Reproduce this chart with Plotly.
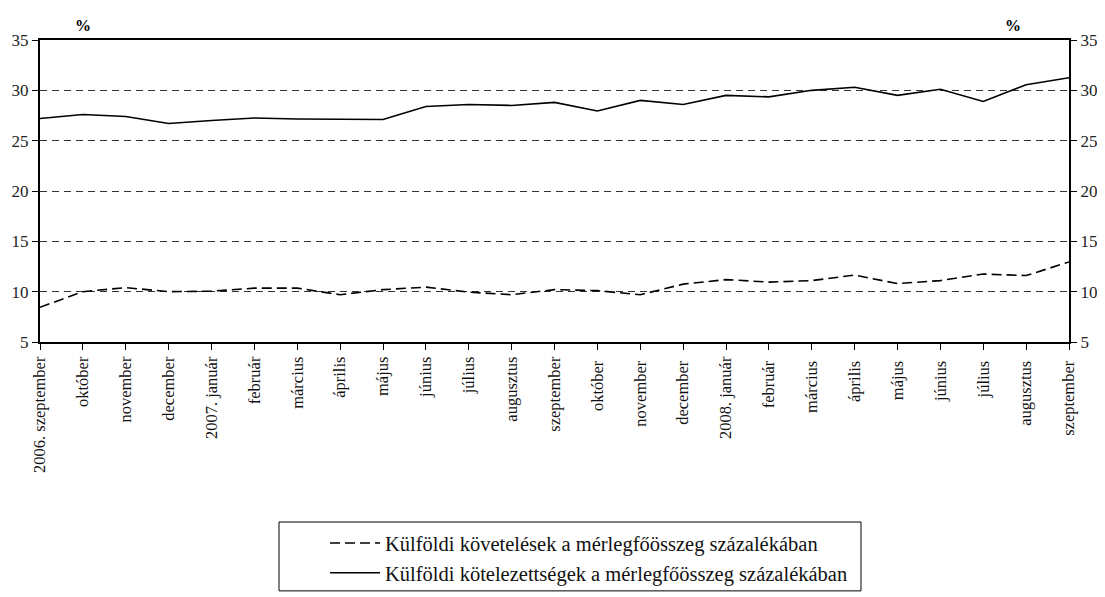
import plotly.graph_objects as go

categories = ["2006. szeptember", "október", "november", "december", "2007. január",
              "február", "március", "április", "május", "június", "július", "augusztus",
              "szeptember", "október ", "november ", "december ", "2008. január",
              "február ", "március ", "április ", "május ", "június ", "július ",
              "augusztus ", "szeptember "]

claims = [8.45, 10.0, 10.4, 10.0, 10.05, 10.35, 10.35, 9.7, 10.2, 10.45, 9.95, 9.7,
          10.2, 10.1, 9.7, 10.75, 11.2, 10.95, 11.1, 11.65, 10.8, 11.1, 11.75, 11.6, 12.95]

liabilities = [27.2, 27.6, 27.4, 26.7, 27.0, 27.25, 27.15, 27.15, 27.1, 28.4, 28.6, 28.5,
               28.8, 27.95, 29.0, 28.6, 29.5, 29.35, 30.0, 30.3, 29.5, 30.1, 28.9, 30.55, 31.25]

claims_name = "Külföldi követelések a mérlegfőösszeg százalékában"
liab_name = "Külföldi kötelezettségek a mérlegfőösszeg százalékában"

y_ticks = [5, 10, 15, 20, 25, 30, 35]

FONT = "Liberation Serif"

fig = go.Figure()
fig.add_trace(go.Scatter(x=categories, y=claims, mode="lines", name=claims_name,
                         line=dict(color="black", width=1.6, dash="10px,5px"),
                         legendgroup="a"))
fig.add_trace(go.Scatter(x=categories, y=liabilities, mode="lines", name=liab_name,
                         line=dict(color="black", width=1.6), legendgroup="b"))
fig.add_trace(go.Scatter(x=categories, y=liabilities, mode="lines", yaxis="y2",
                         line=dict(color="rgba(0,0,0,0)"), showlegend=False,
                         hoverinfo="skip"))

axis_common = dict(range=[5, 35], tickvals=y_ticks, ticks="outside", ticklen=6,
                   tickcolor="black", showline=True, linecolor="black", linewidth=2,
                   tickfont=dict(family=FONT, size=17, color="#222"), zeroline=False,
                   automargin=False)

fig.update_layout(
    width=1105, height=597,
    margin=dict(l=32, r=44, t=32, b=258),
    paper_bgcolor="white", plot_bgcolor="white",
    font=dict(family=FONT, size=17, color="black"),
    xaxis=dict(type="category", tickangle=-90, ticks="outside", ticklen=6,
               tickcolor="black", showline=True, linecolor="black", linewidth=2,
               mirror=True, showgrid=False, range=[0, 24], automargin=False,
               tickfont=dict(family=FONT, size=16.5, color="#111")),
    yaxis=dict(**axis_common, showgrid=True, gridcolor="#333", griddash="7px,5px",
               gridwidth=1),
    yaxis2=dict(**axis_common, overlaying="y", side="right", showgrid=False),
    showlegend=True,
    legend=dict(x=0.277, xanchor="left", y=-0.60, yanchor="top",
                bgcolor="rgba(0,0,0,0)", traceorder="grouped", tracegroupgap=0,
                font=dict(family=FONT, size=20.5, color="#111"), itemwidth=50),
)

fig.add_shape(type="rect", xref="paper", yref="paper",
              x0=(279 - 40) / 1029, x1=(861 - 40) / 1029,
              y0=(347 - 530) / 307, y1=(347 - 600) / 307,
              line=dict(color="black", width=1))

fig.add_annotation(text="<b>%</b>", xref="paper", yref="paper",
                   x=(83 - 40) / 1029, y=(347 - 25) / 307, showarrow=False,
                   xanchor="center", yanchor="middle",
                   font=dict(family=FONT, size=16, color="black"))
fig.add_annotation(text="<b>%</b>", xref="paper", yref="paper",
                   x=(1013 - 40) / 1029, y=(347 - 25) / 307, showarrow=False,
                   xanchor="center", yanchor="middle",
                   font=dict(family=FONT, size=16, color="black"))

fig.write_html("out.html")
